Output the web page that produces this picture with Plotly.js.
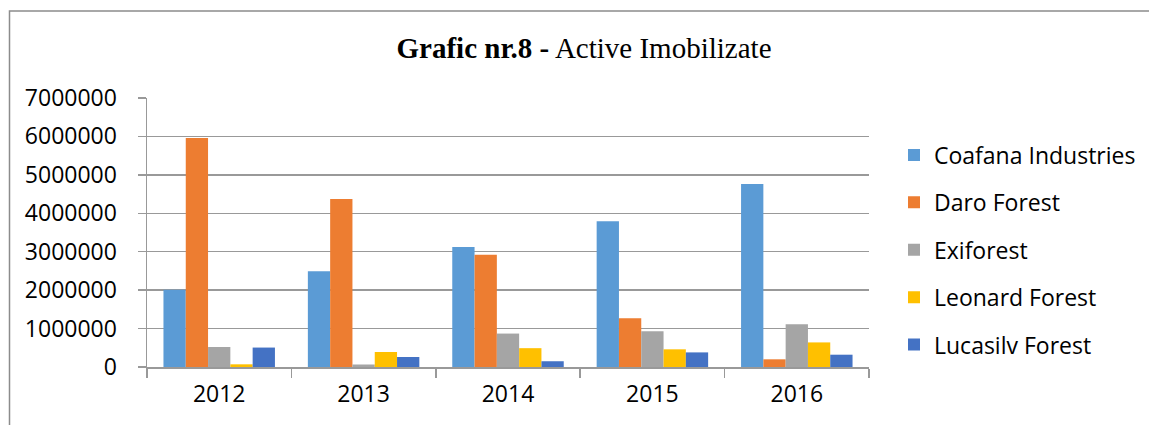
<!DOCTYPE html>
<html>
<head>
<meta charset="utf-8">
<script src="https://cdn.plot.ly/plotly-3.0.1.min.js"></script>
<style>html,body{margin:0;padding:0;background:#fff;}#chart{width:1149px;height:425px;}</style>
</head>
<body>
<div id="chart"></div>
<script>
const years = ['2012', '2013', '2014', '2015', '2016'];
const seriesNames = ['Coafana Industries', 'Daro Forest', 'Exiforest', 'Leonard Forest', 'Lucasilv Forest'];
const coafana = [2010000, 2490000, 3120000, 3790000, 4760000];
const daro = [5960000, 4370000, 2920000, 1270000, 200000];
const exiforest = [520000, 65000, 870000, 930000, 1110000];
const leonard = [70000, 390000, 490000, 460000, 640000];
const lucasilv = [506000, 260000, 150000, 380000, 320000];
const colors = ['#5B9BD5', '#ED7D31', '#A5A5A5', '#FFC000', '#4472C4'];
const allValues = [coafana, daro, exiforest, leonard, lucasilv];

const tickFont = {family: 'Open Sans, Liberation Sans, sans-serif', size: 23, color: '#000'};

const traces = allValues.map((vals, i) => ({
  type: 'bar',
  name: seriesNames[i],
  x: years,
  y: vals,
  legendgroup: 'g' + i,
  marker: {color: colors[i], line: {width: 0}},
  hoverinfo: 'x+y+name'
}));

const L = 147, R = 280, T = 98, B = 58, W = 1149, H = 425;
const pw = W - L - R, ph = H - T - B;
const px2x = p => (p - L) / pw;
const py2y = p => (H - B - p) / ph;

const layout = {
  width: W, height: H,
  margin: {l: L, r: R, t: T, b: B, pad: 0, autoexpand: false},
  paper_bgcolor: '#fff',
  plot_bgcolor: '#fff',
  barmode: 'group',
  bargap: 0.228,
  bargroupgap: 0,
  title: {
    text: '<b>Grafic nr.8 -</b> Active Imobilizate',
    font: {family: 'Liberation Serif, Times New Roman, serif', size: 29, color: '#000'},
    x: 584 / W, xanchor: 'center',
    y: 1 - 48 / H, yanchor: 'middle'
  },
  xaxis: {
    type: 'category',
    showgrid: false,
    showline: true, linecolor: '#999999', linewidth: 1.5,
    ticks: 'outside', tickson: 'boundaries', ticklen: 9, tickcolor: '#999999', tickwidth: 1.5,
    tickfont: tickFont,
    ticklabelstandoff: 6,
    zeroline: false
  },
  yaxis: {
    range: [0, 7000000],
    dtick: 1000000,
    tick0: 0,
    tickformat: 'd',
    showgrid: true, gridcolor: '#999999', gridwidth: 1.5,
    showline: true, linecolor: '#999999', linewidth: 1.5,
    ticks: 'outside', ticklen: 8, tickcolor: '#999999', tickwidth: 1.5,
    tickfont: tickFont,
    ticklabelstandoff: 16,
    zeroline: false
  },
  legend: {
    x: px2x(894), xanchor: 'left',
    y: py2y(250), yanchor: 'middle',
    font: {family: 'Open Sans, Liberation Sans, sans-serif', size: 23, color: '#000'},
    traceorder: 'grouped',
    tracegroupgap: 14.5,
    bgcolor: 'rgba(0,0,0,0)'
  },
  shapes: [{
    type: 'rect', xref: 'paper', yref: 'paper',
    x0: px2x(9.5), x1: px2x(1170), y0: py2y(440), y1: py2y(11),
    line: {color: '#8c8c8c', width: 1.5},
    fillcolor: 'rgba(0,0,0,0)', layer: 'below'
  }],
  showlegend: true
};

Plotly.newPlot('chart', traces, layout, {displayModeBar: false, staticPlot: true});
</script>
</body>
</html>
